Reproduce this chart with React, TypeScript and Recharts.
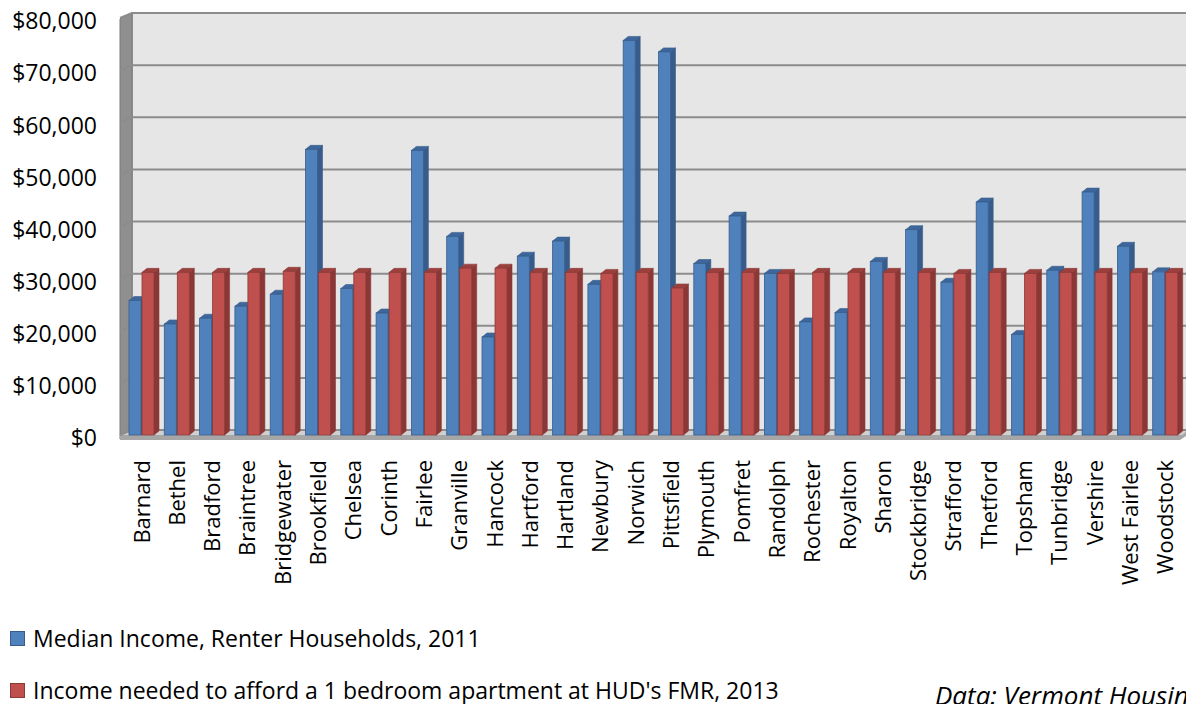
import React from 'react';
import { BarChart, Bar, XAxis, YAxis, CartesianGrid } from 'recharts';

const towns = [
  'Barnard', 'Bethel', 'Bradford', 'Braintree', 'Bridgewater', 'Brookfield', 'Chelsea', 'Corinth',
  'Fairlee', 'Granville', 'Hancock', 'Hartford', 'Hartland', 'Newbury', 'Norwich', 'Pittsfield',
  'Plymouth', 'Pomfret', 'Randolph', 'Rochester', 'Royalton', 'Sharon', 'Stockbridge', 'Strafford',
  'Thetford', 'Topsham', 'Tunbridge', 'Vershire', 'West Fairlee', 'Woodstock',
];

const medianIncome = [
  25800, 21300, 22400, 24700, 27000, 54800, 28100, 23400, 54600, 38100,
  18800, 34300, 37200, 28900, 75700, 73500, 32900, 42000, 31000, 21700,
  23500, 33300, 39400, 29300, 44700, 19300, 31600, 46600, 36200, 31300,
];

const incomeNeeded = [
  31200, 31200, 31200, 31200, 31400, 31200, 31200, 31200, 31200, 32000,
  32000, 31200, 31200, 31000, 31200, 28200, 31200, 31200, 31000, 31200,
  31200, 31200, 31200, 31000, 31200, 31000, 31200, 31200, 31200, 31200,
];

const yTicks = [0, 10000, 20000, 30000, 40000, 50000, 60000, 70000, 80000];

const seriesNames = [
  'Median Income, Renter Households, 2011',
  "Income needed to afford a 1 bedroom apartment at HUD's FMR, 2013",
];

const data = towns.map((town, i) => ({ town, median: medianIncome[i], needed: incomeNeeded[i] }));

// layout
const W = 1186;
const CHART_H = 600;
const PLOT_LEFT = 124;
const PLOT_TOP = 18;
const PLOT_BOTTOM = 435;
const DY = 5;
const FONT = '"Open Sans", "Noto Sans", sans-serif';

const blue = { front: '#4f81bd', side: '#375c8c', top: '#3d679c', edge: '#385d8a' };
const red = { front: '#c0504d', side: '#8a3735', top: '#9c403d', edge: '#8c3a38' };

function Bar3D(props: any) {
  const { x, y, width, height, c } = props;
  if (width == null || height == null) return null;
  const d = 5;
  const dy = 4;
  return (
    <g>
      <polygon
        points={`${x + width},${y} ${x + width + d},${y - dy} ${x + width + d},${y + height - dy} ${x + width},${y + height}`}
        fill={c.side}
        stroke={c.edge}
        strokeWidth={0.6}
      />
      <polygon
        points={`${x},${y} ${x + d},${y - dy} ${x + width + d},${y - dy} ${x + width},${y}`}
        fill={c.top}
        stroke={c.edge}
        strokeWidth={0.6}
      />
      <rect x={x} y={y} width={width} height={height} fill={c.front} stroke={c.edge} strokeWidth={0.8} />
    </g>
  );
}

function TownTick(props: any) {
  const { x, y, payload } = props;
  return (
    <text
      transform={`translate(${x},${y + 25}) rotate(-90)`}
      textAnchor="end"
      dy="0.36em"
      fontSize={22}
      fontFamily={FONT}
      fill="#000"
    >
      {payload.value}
    </text>
  );
}

function GridLine(props: any) {
  const { x1, x2, y1 } = props;
  return (
    <path
      d={`M${x1 - 4},${y1} L${x1 + 8},${y1 - DY} L${x2 + 4},${y1 - DY}`}
      stroke="#8c8c8c"
      strokeWidth={2}
      fill="none"
    />
  );
}

function MoneyTick(props: any) {
  const { x, y, payload } = props;
  return (
    <text x={x} y={y + 3} textAnchor="end" dy="0.36em" fontSize={23} fontFamily={FONT} fill="#000">
      {'$' + Number(payload.value).toLocaleString('en-US')}
    </text>
  );
}

export default function App() {
  const backTop = PLOT_TOP - DY;
  const backBottom = PLOT_BOTTOM - DY;
  return (
    <div
      style={{
        position: 'absolute',
        left: 0,
        top: 0,
        width: W,
        height: 704,
        overflow: 'hidden',
        background: '#fff',
        fontFamily: FONT,
      }}
    >
      <svg width={W} height={CHART_H} style={{ position: 'absolute', left: 0, top: 0 }}>
        <rect x={PLOT_LEFT + 8} y={backTop} width={W - PLOT_LEFT} height={backBottom - backTop} fill="#e6e6e6" stroke="#9a9a9a" strokeWidth={2} />
        <polygon
          points={`${PLOT_LEFT - 4},${PLOT_TOP + 1} ${PLOT_LEFT + 8},${backTop} ${PLOT_LEFT + 8},${backBottom} ${PLOT_LEFT - 4},${PLOT_BOTTOM + 4}`}
          fill="#8f8f8f"
          stroke="#7a7a7a"
          strokeWidth={1}
        />
        <polygon
          points={`${PLOT_LEFT - 4},${PLOT_BOTTOM} ${PLOT_LEFT + 8},${backBottom} ${W},${backBottom} ${W},${PLOT_BOTTOM}`}
          fill="#d0d0d0"
        />
        <polygon
          points={`${PLOT_LEFT - 4},${PLOT_BOTTOM} ${W - 4},${PLOT_BOTTOM} ${W},${PLOT_BOTTOM - 3} ${W},${PLOT_BOTTOM + 1} ${W - 6},${PLOT_BOTTOM + 5} ${PLOT_LEFT - 4},${PLOT_BOTTOM + 5}`}
          fill="#a6a6a6"
        />
      </svg>
      <div style={{ position: 'absolute', left: 0, top: 0 }}>
        <BarChart
          width={W}
          height={CHART_H}
          data={data}
          margin={{ top: PLOT_TOP, right: 3, bottom: 0, left: 0 }}
          barCategoryGap={0}
          barGap={1}
        >
          <CartesianGrid vertical={false} horizontal={(p: any) => <GridLine key={p.key} {...p} />} stroke="#8c8c8c" />
          <XAxis
            dataKey="town"
            interval={0}
            axisLine={false}
            tickLine={false}
            tickSize={0}
            tickMargin={0}
            height={CHART_H - PLOT_BOTTOM}
            tick={<TownTick />}
          />
          <YAxis
            domain={[0, 80000]}
            ticks={yTicks}
            interval={0}
            width={PLOT_LEFT}
            axisLine={false}
            tickLine={false}
            tickSize={0}
            tickMargin={27}
            tick={<MoneyTick />}
          />
          <Bar dataKey="median" name={seriesNames[0]} barSize={12} isAnimationActive={false} shape={(p: any) => <Bar3D {...p} c={blue} />} />
          <Bar dataKey="needed" name={seriesNames[1]} barSize={12} isAnimationActive={false} shape={(p: any) => <Bar3D {...p} c={red} />} />
        </BarChart>
      </div>
      {[blue, red].map((c, i) => (
        <div
          key={i}
          style={{
            position: 'absolute',
            left: 10,
            top: 625 + i * 52,
            height: 26,
            display: 'flex',
            alignItems: 'center',
            fontSize: 23,
            whiteSpace: 'nowrap',
            color: '#000',
          }}
        >
          <span
            style={{
              display: 'inline-block',
              width: 13,
              height: 13,
              background: c.front,
              border: `1px solid ${c.edge}`,
              marginRight: 8,
            }}
          />
          {seriesNames[i]}
        </div>
      ))}
      <div
        style={{
          position: 'absolute',
          left: 935,
          top: 680,
          fontSize: 26,
          lineHeight: '30px',
          fontStyle: 'italic',
          whiteSpace: 'nowrap',
          color: '#000',
        }}
      >
        Data: Vermont Housing Finance Agency
      </div>
    </div>
  );
}
